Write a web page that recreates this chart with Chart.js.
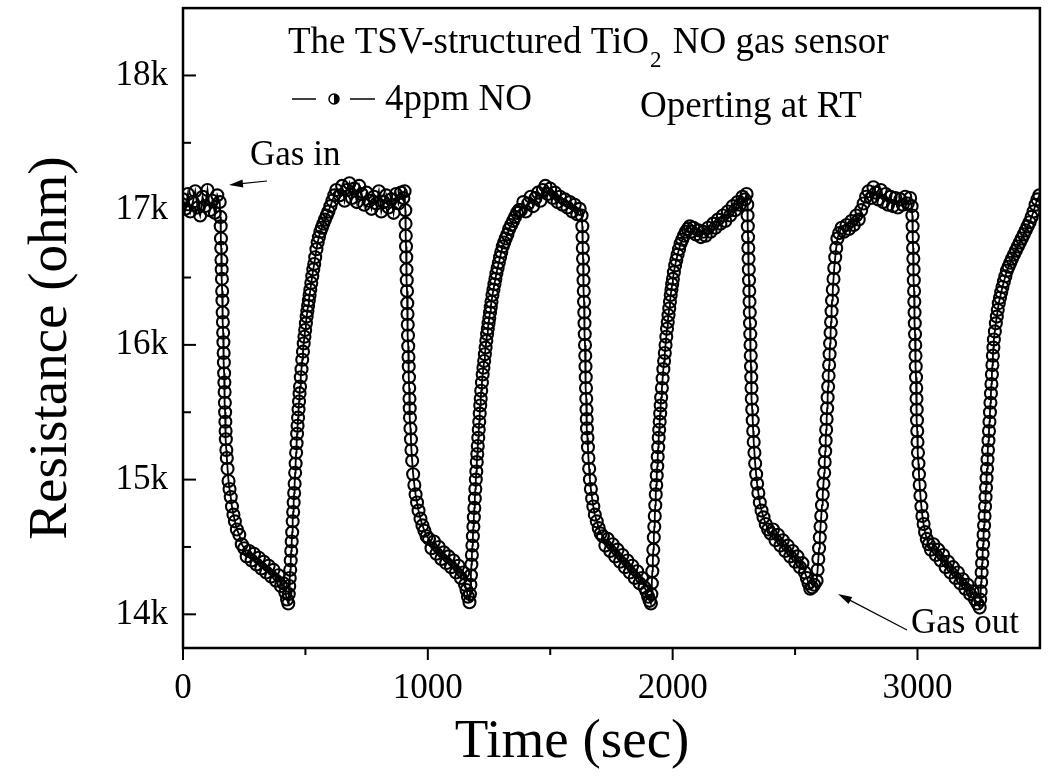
<!DOCTYPE html>
<html>
<head>
<meta charset="utf-8">
<title>TSV-structured TiO2 NO gas sensor</title>
<script src="https://cdn.jsdelivr.net/npm/chart.js@4/dist/chart.umd.min.js"></script>
<style>
  html, body { margin: 0; padding: 0; background: #fff; }
  #wrap { width: 1048px; height: 776px; }
</style>
</head>
<body>
<div id="wrap"><canvas id="sensorChart" width="1048" height="776"></canvas></div>
<script>
// ---- data (time in s, resistance in ohm) ----
var timeSec = [
  // baseline before gas in
  0, 10, 20, 30, 40, 50, 60, 70, 80, 90, 100, 110, 120, 130, 140, 150,
  // drop 1
  153, 154, 155, 156, 157, 158, 159, 160, 161, 162, 163, 164, 165, 166, 167, 168, 169, 170, 171, 172, 173, 174, 175, 177, 179,
  182, 186, 190, 195, 200, 206, 212, 220, 230, 240, 250, 260, 270, 280, 290, 300, 310, 320, 330, 340,
  350, 360, 370, 380, 390, 400, 410, 418, 425, 430,
  // rise 1
  432, 434, 436, 438, 440, 442, 444, 446, 448, 450, 452, 454, 456, 458, 460, 462, 464, 466, 468, 470, 472, 474, 476, 478,
  481, 484, 487, 490, 493, 496, 499, 502, 505, 508, 511, 514, 517, 520,
  524, 528, 532, 536, 540, 545, 550, 555, 561, 567, 573, 580, 587, 594, 602, 610, 618, 626,
  640, 650, 660, 670, 680, 690, 700, 710, 720, 730, 740, 750, 760, 770, 780, 790, 800, 810, 820, 830,
  840, 850, 860, 870, 880, 890, 900, 905,
  // drop 2
  908, 909, 910, 911, 912, 913, 914, 915, 916, 917, 918, 919, 920, 921, 922, 923, 924, 925, 926, 927, 929, 931, 933, 936,
  940, 945, 950, 956, 962, 970, 978, 986, 995, 1005, 1015, 1025, 1035, 1045, 1055, 1065, 1075, 1085, 1095, 1105,
  1115, 1125, 1135, 1145, 1152, 1158, 1164, 1170,
  // rise 2
  1172, 1174, 1176, 1178, 1180, 1182, 1184, 1186, 1188, 1190, 1192, 1194, 1196, 1198, 1200, 1202, 1204, 1206, 1208, 1210,
  1212, 1214, 1216, 1218,
  1221, 1224, 1227, 1230, 1233, 1236, 1239, 1242, 1245, 1248, 1251, 1254, 1257, 1260,
  1264, 1268, 1272, 1276, 1280, 1285, 1290, 1295, 1300, 1306, 1312, 1318, 1325, 1332, 1340, 1348, 1356, 1364, 1372,
  1380, 1390, 1400, 1410, 1420, 1430, 1440, 1450, 1460, 1470, 1480, 1490, 1500, 1510, 1520, 1530, 1540, 1550, 1560, 1570,
  1580, 1590, 1600, 1610, 1620, 1628,
  // drop 3
  1631, 1632, 1633, 1634, 1635, 1636, 1637, 1638, 1639, 1640, 1641, 1642, 1643, 1644, 1645, 1646, 1647, 1648, 1649, 1650,
  1652, 1654, 1656, 1659, 1662, 1666, 1671, 1676, 1682, 1690, 1698, 1706,
  1715, 1725, 1735, 1745, 1755, 1765, 1775, 1785, 1795, 1805, 1815, 1825, 1835, 1845, 1855, 1865, 1875, 1885,
  1893, 1900, 1906, 1911,
  // rise 3
  1913, 1915, 1917, 1919, 1921, 1923, 1925, 1927, 1929, 1931, 1933, 1935, 1937, 1939, 1941, 1943, 1945, 1947, 1949, 1951,
  1953,
  1956, 1959, 1962, 1965, 1968, 1971, 1974, 1977, 1980, 1983, 1986, 1989, 1992, 1995, 1998, 2001,
  2005, 2010, 2015, 2020, 2026, 2032, 2039, 2046, 2054, 2062, 2070,
  2075, 2085, 2095, 2105, 2115, 2125, 2135, 2145, 2155, 2165, 2175, 2185, 2195, 2205, 2215, 2225, 2235, 2245,
  2255, 2265, 2275, 2285, 2295, 2302,
  // drop 4
  2305, 2306, 2307, 2308, 2309, 2310, 2311, 2312, 2313, 2314, 2315, 2316, 2317, 2318, 2319, 2320, 2321, 2322, 2323,
  2325, 2327, 2329, 2331, 2334, 2337, 2341, 2345, 2350, 2356, 2363, 2371, 2380, 2390,
  2400, 2410, 2420, 2430, 2440, 2450, 2460, 2470, 2480, 2490, 2500, 2510, 2520, 2530, 2540,
  2548, 2555, 2562, 2570, 2578, 2588,
  // rise 4 (gas out)
  2592, 2595, 2598, 2601, 2604, 2607, 2610, 2613, 2616, 2619,
  2621, 2623, 2625, 2627, 2629, 2631, 2633, 2635, 2637, 2639, 2641, 2643, 2645, 2647, 2649, 2651,
  2654, 2657, 2660, 2664, 2668, 2673,
  2680, 2690, 2700, 2710, 2720, 2730, 2740, 2750, 2760, 2770, 2780, 2790, 2800, 2810, 2820, 2830, 2840, 2850, 2860, 2870,
  2880, 2890, 2900, 2910, 2920, 2930, 2940, 2950, 2960, 2970, 2976,
  // drop 5
  2979, 2980, 2981, 2982, 2983, 2984, 2985, 2986, 2987, 2988, 2989, 2990, 2991, 2992, 2993, 2994, 2995, 2996, 2997, 2998,
  2999, 3000, 3002, 3004, 3006, 3009, 3012, 3016, 3020, 3025, 3031, 3038, 3046, 3055,
  3065, 3075, 3085, 3095, 3105, 3115, 3125, 3135, 3145, 3155, 3165, 3175, 3185, 3195, 3205, 3215, 3225, 3235,
  3245, 3254,
  // rise 5
  3256, 3258, 3260, 3262, 3264, 3266, 3268, 3270, 3272, 3274, 3276, 3278, 3280, 3282, 3284, 3286, 3288, 3290, 3292, 3294,
  3296, 3298, 3300, 3302, 3304, 3306, 3308, 3310, 3312,
  3316, 3320, 3324, 3328, 3332, 3337, 3342, 3347, 3353, 3359, 3365, 3372, 3379, 3386, 3394, 3402, 3410, 3418, 3426, 3434,
  3442, 3450, 3458, 3466, 3474, 3482, 3490, 3498
];

var resistanceOhm = [
  17080, 17010, 17120, 16990, 17060, 17140, 17020, 16960, 17100, 17030, 17150, 17000, 17070, 16980, 17110, 17060,
  16950, 16880, 16790, 16720, 16630, 16560, 16490, 16400, 16330, 16240, 16170, 16090, 16020, 15940, 15870, 15790, 15720, 15650, 15570, 15500, 15430, 15360, 15300, 15220, 15160,
  15080, 14990, 14930, 14870, 14800, 14740, 14690, 14630, 14590, 14520, 14490, 14430, 14470, 14400, 14450, 14370, 14420, 14340, 14390, 14310,
  14360, 14280, 14330, 14250, 14290, 14210, 14230, 14160, 14110, 14080,
  14150, 14210, 14270, 14330, 14400, 14470, 14540, 14610, 14690, 14760, 14830, 14900, 14970, 15050, 15120, 15200, 15270, 15340, 15400, 15460,
  15520, 15580, 15640, 15690,
  15760, 15820, 15890, 15950, 16010, 16060, 16110, 16160, 16210, 16250, 16290, 16330, 16370, 16410,
  16460, 16510, 16560, 16600, 16650, 16710, 16760, 16800, 16840, 16870, 16900, 16930, 16960, 16990, 17030, 17070, 17110, 17150,
  17110, 17180, 17070, 17150, 17200, 17090, 17160, 17060, 17180, 17120, 17040, 17130, 17070, 17010, 17100, 17050, 17140, 16990, 17060, 17110,
  17020, 17080, 16980, 17120, 17050, 17130, 17090, 17140,
  17000, 16900, 16810, 16730, 16650, 16560, 16480, 16400, 16310, 16230, 16150, 16070, 15990, 15910, 15840, 15760, 15680, 15600, 15530, 15460, 15380, 15300, 15220, 15140,
  15040, 14960, 14890, 14830, 14770, 14710, 14660, 14620, 14580, 14560, 14490, 14540, 14450, 14500, 14410, 14460, 14380, 14430, 14350, 14400,
  14310, 14360, 14270, 14310, 14220, 14180, 14130, 14090,
  14150, 14220, 14290, 14370, 14440, 14510, 14580, 14650, 14720, 14790, 14860, 14930, 15000, 15060, 15130, 15190, 15250, 15310, 15370, 15430,
  15490, 15550, 15600, 15660,
  15720, 15780, 15830, 15880, 15930, 15980, 16030, 16080, 16120, 16160, 16200, 16240, 16280, 16320,
  16370, 16410, 16450, 16490, 16530, 16570, 16610, 16650, 16690, 16730, 16760, 16790, 16820, 16860, 16890, 16920, 16950, 16980, 17000,
  17000, 17060, 16990, 17050, 17100, 17030, 17090, 17130, 17070, 17150, 17180, 17120, 17160, 17090, 17130, 17060, 17100, 17040, 17080, 17020,
  17060, 16990, 17040, 16970, 17010, 16960,
  16880, 16800, 16720, 16640, 16560, 16480, 16400, 16320, 16240, 16160, 16080, 16000, 15920, 15840, 15760, 15680, 15600, 15520, 15450, 15380,
  15310, 15240, 15160, 15080, 15000, 14930, 14860, 14800, 14740, 14690, 14640, 14600,
  14580, 14510, 14560, 14470, 14520, 14430, 14480, 14390, 14440, 14350, 14400, 14310, 14360, 14270, 14320, 14230, 14270, 14200,
  14170, 14130, 14100, 14080,
  14150, 14230, 14320, 14400, 14480, 14570, 14650, 14730, 14810, 14890, 14960, 15030, 15100, 15170, 15240, 15310, 15370, 15430, 15490, 15550,
  15610,
  15680, 15750, 15820, 15880, 15940, 16000, 16060, 16120, 16170, 16220, 16270, 16320, 16370, 16410, 16450, 16490,
  16540, 16590, 16630, 16670, 16710, 16750, 16780, 16810, 16840, 16860, 16880,
  16840, 16870, 16820, 16850, 16800, 16840, 16810, 16870, 16840, 16900, 16870, 16930, 16900, 16960, 16920, 16990, 16960, 17030,
  17000, 17060, 17040, 17100, 17080, 17120,
  17040, 16960, 16880, 16800, 16720, 16640, 16560, 16480, 16400, 16320, 16240, 16160, 16080, 16000, 15920, 15840, 15760, 15680, 15600,
  15520, 15440, 15360, 15280, 15200, 15120, 15040, 14970, 14900, 14830, 14770, 14720, 14670, 14630,
  14600, 14630, 14550, 14590, 14510, 14550, 14470, 14510, 14430, 14470, 14390, 14430, 14350, 14380, 14310,
  14270, 14230, 14190, 14200, 14220, 14250,
  14330, 14410, 14490, 14570, 14650, 14730, 14810, 14890, 14970, 15050,
  15130, 15210, 15290, 15370, 15450, 15530, 15610, 15690, 15770, 15850, 15930, 16010, 16090, 16170, 16250, 16330,
  16410, 16490, 16570, 16650, 16720, 16790,
  16830, 16870, 16840, 16890, 16860, 16920, 16890, 16960, 16930, 17000, 17050, 17100, 17140, 17090, 17170, 17130, 17080, 17150, 17060, 17120,
  17040, 17100, 17030, 17090, 17020, 17080, 17040, 17100, 17050, 17090, 17030,
  16960, 16880, 16800, 16720, 16640, 16560, 16480, 16400, 16320, 16240, 16160, 16080, 16000, 15920, 15840, 15760, 15680, 15600, 15520, 15440,
  15360, 15280, 15200, 15120, 15040, 14960, 14880, 14800, 14730, 14670, 14610, 14560, 14520, 14480,
  14520, 14440, 14480, 14400, 14440, 14350, 14390, 14310, 14350, 14270, 14310, 14230, 14260, 14190, 14220, 14150, 14170, 14110,
  14080, 14050,
  14110, 14170, 14240, 14310, 14380, 14450, 14520, 14590, 14660, 14730, 14800, 14870, 14940, 15010, 15080, 15150, 15220, 15290, 15360, 15430,
  15500, 15570, 15640, 15710, 15780, 15850, 15920, 15980, 16040,
  16100, 16160, 16210, 16260, 16310, 16350, 16390, 16430, 16470, 16510, 16550, 16580, 16610, 16640, 16670, 16700, 16730, 16760, 16790, 16820,
  16850, 16880, 16910, 16950, 16990, 17040, 17080, 17110
];

var xMajorTicks = [0, 1000, 2000, 3000];
var xMinorTicks = [500, 1500, 2500];
var yMajorTicks = [14000, 15000, 16000, 17000, 18000];
var yMinorTicks = [14500, 15500, 16500, 17500];

if (timeSec.length !== resistanceOhm.length) {
  console.error("length mismatch", timeSec.length, resistanceOhm.length);
}

var points = timeSec.map(function(t, i) { return { x: t, y: resistanceOhm[i] }; });

var SERIF = "'Liberation Serif', 'Times New Roman', serif";

function arrow(ctx, x1, y1, x2, y2) {
  // line from (x1,y1) with a filled head at (x2,y2)
  var ang = Math.atan2(y2 - y1, x2 - x1);
  ctx.beginPath();
  ctx.moveTo(x1, y1);
  ctx.lineTo(x2 - 10 * Math.cos(ang), y2 - 10 * Math.sin(ang));
  ctx.stroke();
  ctx.beginPath();
  ctx.moveTo(x2, y2);
  ctx.lineTo(x2 - 14 * Math.cos(ang) + 4 * Math.sin(ang), y2 - 14 * Math.sin(ang) - 4 * Math.cos(ang));
  ctx.lineTo(x2 - 14 * Math.cos(ang) - 4 * Math.sin(ang), y2 - 14 * Math.sin(ang) + 4 * Math.cos(ang));
  ctx.closePath();
  ctx.fill();
}

// frame, ticks, notes and legend
var decorations = {
  id: "decorations",
  afterDraw: function(chart) {
    var ctx = chart.ctx;
    var a = chart.chartArea;
    var xs = chart.scales.x;
    var ys = chart.scales.y;
    ctx.save();
    ctx.strokeStyle = "#000";
    ctx.fillStyle = "#000";

    // box
    ctx.lineWidth = 2.5;
    ctx.strokeRect(a.left, a.top, a.right - a.left, a.bottom - a.top);

    // x ticks point outward
    ctx.lineWidth = 2;
    xMajorTicks.forEach(function(v) {
      var px = xs.getPixelForValue(v);
      ctx.beginPath(); ctx.moveTo(px, a.bottom); ctx.lineTo(px, a.bottom + 12); ctx.stroke();
    });
    xMinorTicks.forEach(function(v) {
      var px = xs.getPixelForValue(v);
      ctx.beginPath(); ctx.moveTo(px, a.bottom); ctx.lineTo(px, a.bottom + 7); ctx.stroke();
    });
    // y ticks point inward
    yMajorTicks.forEach(function(v) {
      var py = ys.getPixelForValue(v);
      ctx.beginPath(); ctx.moveTo(a.left, py); ctx.lineTo(a.left + 13, py); ctx.stroke();
    });
    yMinorTicks.forEach(function(v) {
      var py = ys.getPixelForValue(v);
      ctx.beginPath(); ctx.moveTo(a.left, py); ctx.lineTo(a.left + 8, py); ctx.stroke();
    });

    // axis titles
    ctx.font = "55px " + SERIF;
    ctx.textAlign = "center";
    ctx.textBaseline = "alphabetic";
    ctx.fillText("Time (sec)", 572, 757);
    ctx.save();
    ctx.translate(66, 348);
    ctx.rotate(-Math.PI / 2);
    ctx.fillText("Resistance (ohm)", 0, 0);
    ctx.restore();

    // title with subscript
    ctx.textAlign = "left";
    ctx.font = "37px " + SERIF;
    var t1 = "The TSV-structured TiO";
    var x0 = 288;
    ctx.fillText(t1, x0, 53);
    var w1 = ctx.measureText(t1).width;
    ctx.font = "23px " + SERIF;
    ctx.fillText("2", x0 + w1 + 1, 67);
    var w2 = ctx.measureText("2").width;
    ctx.font = "37px " + SERIF;
    ctx.fillText(" NO gas sensor", x0 + w1 + w2 + 3, 53);

    // legend
    ctx.lineWidth = 1.5;
    ctx.beginPath(); ctx.moveTo(292, 99); ctx.lineTo(316, 99); ctx.stroke();
    ctx.beginPath(); ctx.moveTo(350, 99); ctx.lineTo(375, 99); ctx.stroke();
    ctx.beginPath(); ctx.arc(334, 99, 5, 0, Math.PI * 2); ctx.fillStyle = "#fff"; ctx.fill(); ctx.stroke();
    ctx.fillStyle = "#000";
    ctx.beginPath(); ctx.arc(334, 99, 5, -Math.PI / 2, Math.PI / 2); ctx.closePath(); ctx.fill();
    ctx.font = "37px " + SERIF;
    ctx.fillText("4ppm NO", 385, 110);
    ctx.fillText("Operting at RT", 640, 117);

    // gas in / gas out notes
    ctx.font = "35px " + SERIF;
    ctx.fillText("Gas in", 250, 165);
    ctx.fillText("Gas out", 911, 633);
    ctx.lineWidth = 1.2;
    arrow(ctx, 267, 181, 229, 185);
    arrow(ctx, 907, 630, 838, 594);

    ctx.restore();
  }
};

new Chart(document.getElementById("sensorChart"), {
  type: "scatter",
  data: {
    datasets: [{
      label: "4ppm NO",
      data: points,
      showLine: true,
      borderColor: "#000",
      borderWidth: 1.8,
      pointRadius: 6,
      pointBorderWidth: 2.1,
      pointBorderColor: "#000",
      pointBackgroundColor: "rgba(255,255,255,0)",
      tension: 0
    }]
  },
  options: {
    responsive: false,
    animation: false,
    layout: { padding: { top: 8, right: 7, left: 0, bottom: 0 } },
    plugins: {
      legend: { display: false },
      tooltip: { enabled: false }
    },
    scales: {
      x: {
        type: "linear",
        min: 0,
        max: 3500,
        grid: { display: false, drawTicks: false },
        border: { display: false },
        afterBuildTicks: function(s) {
          s.ticks = xMajorTicks.map(function(v) { return { value: v }; });
        },
        afterFit: function(s) {
          s.height = 128;
          s.paddingLeft = 0;
          s.paddingRight = 0;
        },
        ticks: {
          padding: 20,
          color: "#000",
          font: { family: SERIF, size: 35 },
          maxRotation: 0,
          autoSkip: false,
          callback: function(v) { return String(v); }
        }
      },
      y: {
        type: "linear",
        min: 13750,
        max: 18500,
        grid: { display: false, drawTicks: false },
        border: { display: false },
        afterBuildTicks: function(s) {
          s.ticks = yMajorTicks.map(function(v) { return { value: v }; });
        },
        afterFit: function(s) {
          s.width = 183;
          s.paddingTop = 0;
          s.paddingBottom = 0;
        },
        ticks: {
          padding: 15,
          color: "#000",
          font: { family: SERIF, size: 35 },
          autoSkip: false,
          callback: function(v) { return (v / 1000) + "k"; }
        }
      }
    }
  },
  plugins: [decorations]
});
</script>
</body>
</html>
